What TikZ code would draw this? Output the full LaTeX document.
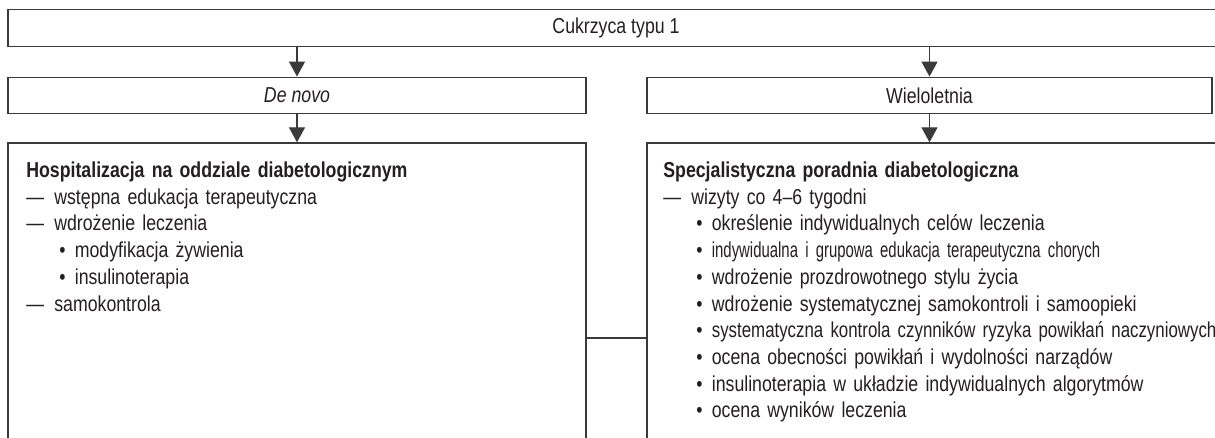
\documentclass[tikz,border=0pt]{standalone}
\usepackage{fontspec}
\setmainfont{Liberation Sans}[FakeStretch=0.82]
\newfontfamily\narrowfont{Liberation Sans}[FakeStretch=0.69]
\newfontfamily\tightfont{Liberation Sans}[FakeStretch=0.78]
\usepackage{xcolor}
\definecolor{dgline}{RGB}{58,58,58}
\definecolor{dgtext}{RGB}{35,31,32}
\usetikzlibrary{arrows.meta,positioning}
\newcommand{\dashitem}[1]{\makebox[0.56cm][l]{—}#1}
\newcommand{\bulletitem}[1]{\hspace*{0.66cm}\makebox[0.31cm][l]{•}#1}
\tikzset{
  dbox/.style={draw=dgline, line width=0.8pt, text=dgtext, inner sep=0pt,
               font=\fontsize{12.3}{15.2}\selectfont, minimum height=0.73cm},
  ptext/.style={text=dgtext, inner sep=0pt, align=left, text width=#1,
                font=\fontsize{12.3}{15.2}\selectfont, anchor=base west},
  darr/.style={draw=dgline, line width=0.8pt, -{Triangle[length=0.3cm, width=0.32cm]}},
}

\begin{document}
\begin{tikzpicture}

\clip (0,0) rectangle (24.3,-8.76);

% --- Top: diagnosis ---
\node[dbox, minimum width=24.32cm] (cukrzyca) at (12.32,-0.56) {Cukrzyca typu 1};

% --- Second row ---
\node[dbox, minimum width=11.56cm] (denovo) at (5.94,-1.91) {\textit{De novo}};
\node[dbox, minimum width=11.3cm] (wieloletnia) at (18.59,-1.91) {Wieloletnia};

% --- Bottom boxes (run past the lower edge) ---
\node[dbox, minimum width=11.56cm, minimum height=6.34cm] (hosp) at (5.94,-6.03) {};
\node[dbox, minimum width=11.86cm, minimum height=6.34cm] (poradnia) at (18.87,-6.03) {};

% Box contents
\node[ptext=11cm] (hosptxt) at (0.52,-3.55) {%
  \textbf{Hospitalizacja na oddziale diabetologicznym}\\
  \dashitem{wstępna edukacja terapeutyczna}\\
  \dashitem{wdrożenie leczenia}\\
  \bulletitem{modyfikacja żywienia}\\
  \bulletitem{insulinoterapia}\\
  \dashitem{samokontrola}};
\node[ptext=12.5cm] (poradniatxt) at (13.26,-3.55) {%
  \textbf{Specjalistyczna poradnia diabetologiczna}\\
  \dashitem{wizyty co 4–6 tygodni}\\
  \bulletitem{określenie indywidualnych celów leczenia}\\
  \bulletitem{{\narrowfont indywidualna i grupowa edukacja terapeutyczna chorych}}\\
  \bulletitem{wdrożenie prozdrowotnego stylu życia}\\
  \bulletitem{wdrożenie systematycznej samokontroli i samoopieki}\\
  \bulletitem{{\tightfont systematyczna kontrola czynników ryzyka powikłań naczyniowych}}\\
  \bulletitem{ocena obecności powikłań i wydolności narządów}\\
  \bulletitem{insulinoterapia w układzie indywidualnych algorytmów}\\
  \bulletitem{ocena wyników leczenia}};

% --- Connectors ---
\draw[darr] (denovo.north |- cukrzyca.south) -- (denovo.north);
\draw[darr] (wieloletnia.north |- cukrzyca.south) -- (wieloletnia.north);
\draw[darr] (denovo) -- (hosp.north -| denovo);
\draw[darr] (wieloletnia) ++(0,-0.365) -- (poradnia.north -| wieloletnia);

\coordinate (link) at (0,-6.76);
\draw[dgline, line width=0.8pt] (hosp.east |- link) -- (poradnia.west |- link);

\end{tikzpicture}
\end{document}
